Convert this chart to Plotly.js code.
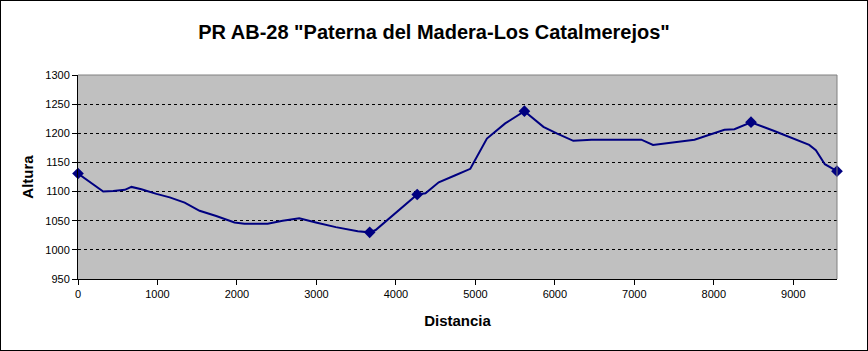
<!DOCTYPE html>
<html>
<head>
<meta charset="utf-8">
<script src="https://cdn.plot.ly/plotly-3.0.1.min.js"></script>
<style>
html,body{margin:0;padding:0;background:#fff;}
#wrap{position:relative;width:868px;height:351px;}
#chart{width:868px;height:351px;}
#frame{position:absolute;left:0;top:0;width:868px;height:351px;box-sizing:border-box;border:1px solid #000;pointer-events:none;}
</style>
</head>
<body>
<div id="wrap"><div id="chart"></div><div id="frame"></div></div>
<script>
// Elevation profile
var distancia = [0, 317, 443, 589, 673, 798, 987, 1154, 1342, 1530, 1739, 1969, 2094, 2386, 2575, 2784, 2993, 3244, 3520, 3670, 3745, 4017, 4268, 4372, 4539, 4748, 4936, 5145, 5375, 5617, 5856, 6023, 6232, 6462, 6671, 7088, 7235, 7423, 7757, 8134, 8259, 8468, 8761, 9200, 9284, 9397, 9550];
var altura    = [1131, 1100, 1101, 1103, 1108, 1104, 1096, 1090, 1081, 1067, 1058, 1047, 1045, 1045, 1050, 1054, 1047, 1039, 1032, 1030, 1034, 1066, 1095, 1097, 1116, 1128, 1139, 1191, 1217, 1238, 1211, 1200, 1187, 1189, 1189, 1189, 1180, 1183, 1189, 1206, 1207, 1219, 1204, 1180, 1171, 1147, 1135];
// Waypoints (marked)
var wpDistancia = [0, 3670, 4268, 5617, 8468, 9550];
var wpAltura    = [1131, 1030, 1095, 1238, 1219, 1135];

var xTicks = [0,1000,2000,3000,4000,5000,6000,7000,8000,9000];
var yTicks = [950,1000,1050,1100,1150,1200,1250,1300];

var navy = '#000080';
var tickFont = {family: '"Liberation Sans Narrow", "Liberation Sans", Arial, sans-serif', size: 11, color: '#000'};
var titleFont = {family: '"Liberation Sans", Arial, sans-serif', size: 15, color: '#000', weight: 'bold'};

var traces = [
  {x: distancia, y: altura, type: 'scatter', mode: 'lines', line: {color: navy, width: 2}, hoverinfo: 'x+y'},
  {x: wpDistancia, y: wpAltura, type: 'scatter', mode: 'markers', marker: {symbol: 'diamond', size: 9, color: navy}, cliponaxis: false}
];

var layout = {
  width: 868, height: 351,
  margin: {l: 78, r: 31, t: 75, b: 72},
  paper_bgcolor: '#ffffff',
  plot_bgcolor: '#c0c0c0',
  showlegend: false,
  title: {text: 'PR AB-28 "Paterna del Madera-Los Catalmerejos"', x: 0.5, xanchor: 'center', y: 0.91, yanchor: 'middle',
          font: {family: '"Liberation Sans", Arial, sans-serif', size: 20, color: '#000', weight: 'bold'}},
  xaxis: {
    range: [0, 9550], tickvals: xTicks, ticktext: xTicks.map(String),
    showgrid: false, zeroline: false,
    showline: true, linecolor: '#000', linewidth: 1,
    ticks: 'outside', ticklen: 5, tickcolor: '#000', tickwidth: 1,
    tickfont: tickFont,
    title: {text: 'Distancia', font: titleFont, standoff: 16}
  },
  yaxis: {
    range: [950, 1300], tickvals: yTicks, ticktext: yTicks.map(String),
    showgrid: true, gridcolor: '#000', griddash: '3px,3px', gridwidth: 1,
    zeroline: false,
    showline: true, linecolor: '#000', linewidth: 1,
    ticks: 'outside', ticklen: 5, tickcolor: '#000', tickwidth: 1,
    tickfont: tickFont,
    title: {text: 'Altura', font: titleFont, standoff: 8}
  },
  shapes: [
    {type: 'line', xref: 'paper', yref: 'paper', x0: 0, x1: 1, y0: 1, y1: 1, line: {color: '#808080', width: 1}},
    {type: 'line', xref: 'paper', yref: 'paper', x0: 1, x1: 1, y0: 0, y1: 1, line: {color: '#808080', width: 1}}
  ]
};

Plotly.newPlot('chart', traces, layout, {displayModeBar: false, staticPlot: true});
</script>
</body>
</html>
